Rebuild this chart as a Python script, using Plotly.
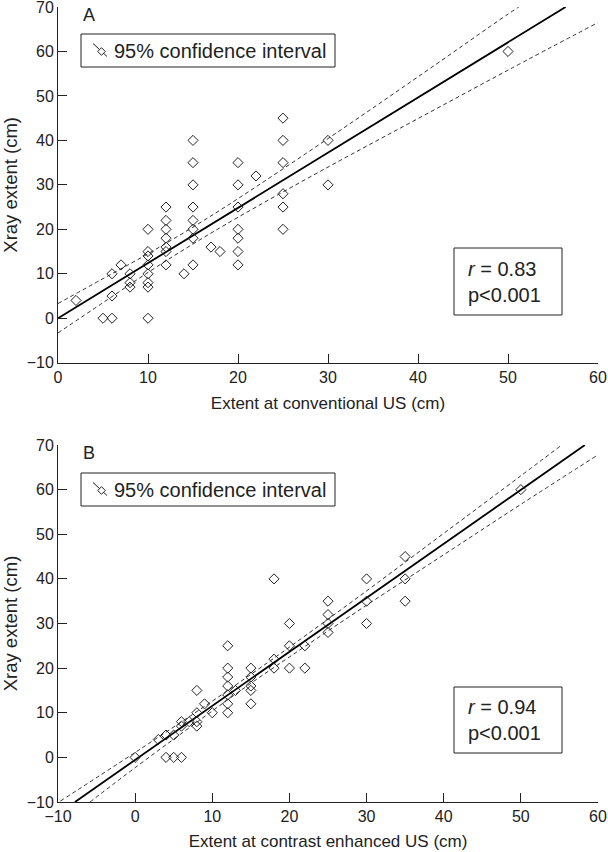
import plotly.graph_objects as go

# ---------------- Panel A data: conventional US vs X-ray ----------------
a_us = [2, 5, 6, 6, 6, 7, 8, 8, 8,
        10, 10, 10, 10, 10, 10, 10, 10,
        12, 12, 12, 12, 12, 12, 12, 14,
        15, 15, 15, 15, 15, 15, 15, 15,
        17, 18,
        20, 20, 20, 20, 20, 20, 20, 22,
        25, 25, 25, 25, 25, 25, 30, 30, 50]
a_xray = [4, 0, 0, 5, 10, 12, 10, 8, 7,
          20, 15, 14, 12, 10, 8, 7, 0,
          25, 22, 20, 18, 16, 15, 12, 10,
          40, 35, 30, 25, 22, 20, 18, 12,
          16, 15,
          35, 30, 25, 20, 18, 15, 12, 32,
          45, 40, 35, 28, 25, 20, 40, 30, 60]

a_fit_x = [0, 56.4]
a_fit_y = [0, 70]
a_ci_up_x = [0, 5, 10, 15, 20, 30, 40, 50, 51.2]
a_ci_up_y = [3.3, 8.9, 14.5, 20.5, 26.9, 40.4, 54.3, 68.4, 70.0]
a_ci_lo_x = [0, 5, 10, 15, 20, 30, 40, 50, 60]
a_ci_lo_y = [-3.3, 3.5, 10.3, 16.7, 22.7, 34.0, 44.9, 55.8, 66.5]

# ---------------- Panel B data: contrast enhanced US vs X-ray ----------------
b_us = [0, 3, 4, 5, 4, 5, 6, 6, 6, 7, 8, 8, 8, 8, 9, 10,
        12, 12, 12, 12, 12, 12, 12, 13,
        15, 15, 15, 15, 15,
        18, 18, 18, 20, 20, 20, 22, 22,
        25, 25, 25, 25, 30, 30, 30, 35, 35, 35, 50]
b_xray = [0, 4, 5, 5, 0, 0, 0, 8, 7, 8, 10, 8, 7, 15, 12, 10,
          25, 20, 18, 16, 14, 12, 10, 15,
          20, 18, 16, 15, 12,
          40, 22, 20, 30, 25, 20, 25, 20,
          35, 32, 30, 28, 40, 35, 30, 45, 40, 35, 60]

b_fit_x = [-7.8, 58.3]
b_fit_y = [-10, 70]
b_ci_up_x = [-9.7, 0, 10, 15, 20, 30, 40, 50, 55.3]
b_ci_up_y = [-9.8, 1.1, 12.6, 18.6, 24.7, 37.3, 50.2, 63.1, 70.0]
b_ci_lo_x = [-5.85, 0, 10, 15, 20, 30, 40, 50, 60]
b_ci_lo_y = [-10.0, -2.3, 10.4, 16.6, 22.5, 34.1, 45.4, 56.7, 67.8]

panel_labels = ["A", "B"]
stats_text = ["<i>r</i> = 0.83<br>p&lt;0.001", "<i>r</i> = 0.94<br>p&lt;0.001"]
legend_text = "95% confidence interval"
x_titles = ["Extent at conventional US (cm)", "Extent at contrast enhanced US (cm)"]
y_title = "Xray extent (cm)"

W, H = 608, 852
FONT = "Liberation Sans, Arial, sans-serif"
INK = "#222222"


def px(x):
    return x / W


def py(y):
    return 1 - y / H


fig = go.Figure()

panels = [
    dict(us=a_us, xr=a_xray, fx=a_fit_x, fy=a_fit_y, ux=a_ci_up_x, uy=a_ci_up_y,
         lx=a_ci_lo_x, ly=a_ci_lo_y, xa="x", ya="y"),
    dict(us=b_us, xr=b_xray, fx=b_fit_x, fy=b_fit_y, ux=b_ci_up_x, uy=b_ci_up_y,
         lx=b_ci_lo_x, ly=b_ci_lo_y, xa="x2", ya="y2"),
]

for p in panels:
    fig.add_trace(go.Scatter(x=p["ux"], y=p["uy"], mode="lines", line_shape="spline",
                             line=dict(color="#333333", width=1, dash="4px,3px"),
                             xaxis=p["xa"], yaxis=p["ya"], showlegend=False, hoverinfo="skip"))
    fig.add_trace(go.Scatter(x=p["lx"], y=p["ly"], mode="lines", line_shape="spline",
                             line=dict(color="#333333", width=1, dash="4px,3px"),
                             xaxis=p["xa"], yaxis=p["ya"], showlegend=False, hoverinfo="skip"))
    fig.add_trace(go.Scatter(x=p["fx"], y=p["fy"], mode="lines",
                             line=dict(color="#000000", width=1.8),
                             xaxis=p["xa"], yaxis=p["ya"], showlegend=False))
    fig.add_trace(go.Scatter(x=p["us"], y=p["xr"], mode="markers",
                             marker=dict(symbol="diamond-open", size=7.8,
                                         color=INK, line=dict(width=1, color=INK)),
                             xaxis=p["xa"], yaxis=p["ya"], showlegend=False))

axis_common = dict(showline=True, linecolor=INK, linewidth=1, ticks="inside",
                   ticklen=9, tickwidth=1, tickcolor=INK, showgrid=False,
                   zeroline=False, dtick=10, ticklabeloverflow="allow",
                   tickfont=dict(family=FONT, size=16, color=INK),
                   automargin=False)

xdom = [px(58), px(598)]
ydomA = [py(362.7), py(7)]
ydomB = [py(802), py(445)]

xtitle_font = dict(family=FONT, size=17, color=INK)
ytitle_font = dict(family=FONT, size=18.5, color=INK)

fig.update_layout(
    width=W, height=H, autosize=False,
    margin=dict(l=0, r=0, t=0, b=0),
    paper_bgcolor="white", plot_bgcolor="white",
    font=dict(family=FONT, color=INK),
    showlegend=False,
    xaxis=dict(axis_common, domain=xdom, anchor="y", range=[0, 60],
               title=dict(text=x_titles[0], font=xtitle_font, standoff=12)),
    yaxis=dict(axis_common, domain=ydomA, anchor="x", range=[-10, 70],
               title=dict(text=y_title, font=ytitle_font, standoff=8)),
    xaxis2=dict(axis_common, domain=xdom, anchor="y2", range=[-10, 60],
                title=dict(text=x_titles[1], font=xtitle_font, standoff=10)),
    yaxis2=dict(axis_common, domain=ydomB, anchor="x2", range=[-10, 70],
                title=dict(text=y_title, font=ytitle_font, standoff=8)),
)

shapes = []
annotations = []
# per-panel decorations: (legend box top/bottom, stats box top/bottom, label y)
deco = [dict(leg=(34, 67), st=(248, 315), lab=15),
        dict(leg=(473, 506), st=(687, 753), lab=453)]

for i, d in enumerate(deco):
    t, b = d["leg"]
    cy = (t + b) / 2
    shapes.append(dict(type="rect", xref="paper", yref="paper",
                       x0=px(81), x1=px(335), y0=py(b), y1=py(t),
                       line=dict(color=INK, width=1), fillcolor="white", layer="above"))
    # legend symbol: diagonal line with small open diamond
    shapes.append(dict(type="line", xref="paper", yref="paper",
                       x0=px(93), y0=py(cy - 7), x1=px(107), y1=py(cy + 6),
                       line=dict(color=INK, width=1)))
    dx, dy, r = 101.5, cy + 1, 3.8
    path = "M {},{} L {},{} L {},{} L {},{} Z".format(
        px(dx), py(dy - r), px(dx + r), py(dy), px(dx), py(dy + r), px(dx - r), py(dy))
    shapes.append(dict(type="path", xref="paper", yref="paper", path=path,
                       fillcolor="white", line=dict(color=INK, width=1)))
    annotations.append(dict(xref="paper", yref="paper", x=px(112), y=py(cy),
                            xanchor="left", yanchor="middle", showarrow=False,
                            text=legend_text, font=dict(family=FONT, size=20, color=INK)))
    # stats box
    st, sb = d["st"]
    shapes.append(dict(type="rect", xref="paper", yref="paper",
                       x0=px(454), x1=px(562), y0=py(sb), y1=py(st),
                       line=dict(color=INK, width=1), fillcolor="white", layer="above"))
    annotations.append(dict(xref="paper", yref="paper", x=px(466), y=py((st + sb) / 2),
                            xanchor="left", yanchor="middle", align="left", showarrow=False,
                            text=stats_text[i], font=dict(family=FONT, size=20, color=INK)))
    # panel letter
    annotations.append(dict(xref="paper", yref="paper", x=px(81), y=py(d["lab"]),
                            xanchor="left", yanchor="middle", showarrow=False,
                            text=panel_labels[i], font=dict(family=FONT, size=18, color=INK)))

fig.update_layout(shapes=shapes, annotations=annotations)
# remove the browser's default 8px page margin so the figure fills the window exactly
fig.write_html("out.html", config={"displayModeBar": False},
               post_script="document.body.style.margin='0';")
